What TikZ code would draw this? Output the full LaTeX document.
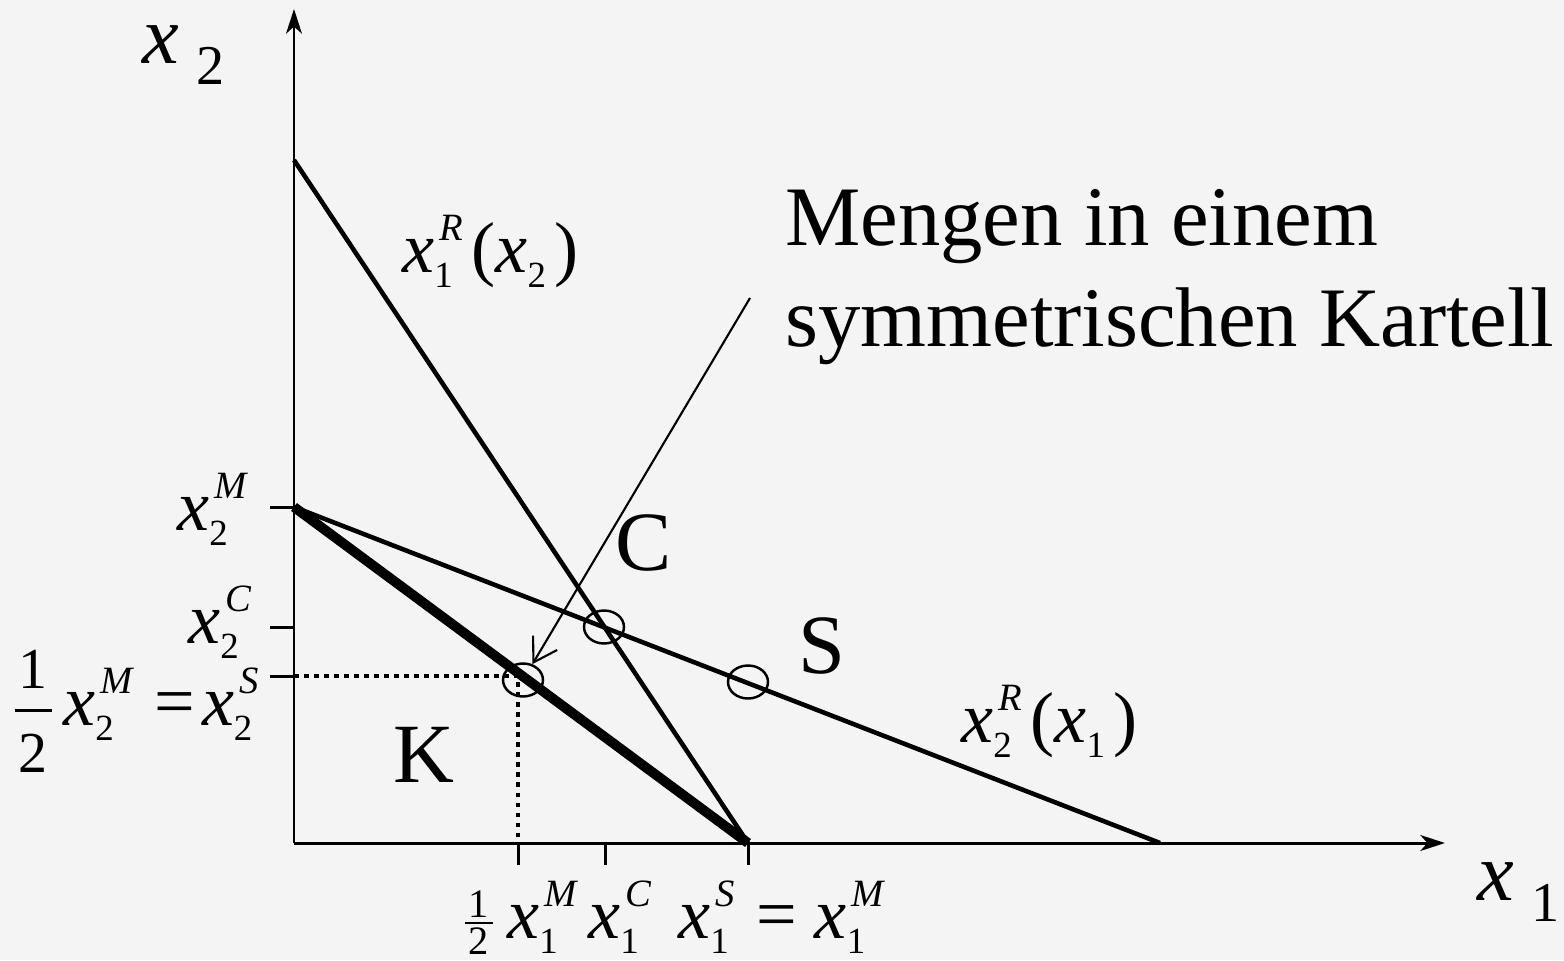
\documentclass[tikz,border=0pt]{standalone}
\usepackage{fontspec}
\setmainfont{Liberation Serif}
\usetikzlibrary{arrows.meta, shapes.geometric}
\definecolor{bgcol}{HTML}{F4F4F4}
% font sizes
\newcommand{\lblf}{\fontsize{41}{41}\selectfont}
\newcommand{\axf}{\fontsize{47}{47}\selectfont}
\newcommand{\titf}{\fontsize{48.2}{48.2}\selectfont}
\newcommand{\bigf}{\fontsize{48}{48}\selectfont}
\newcommand{\subf}{\fontsize{21}{21}\selectfont}
\newcommand{\supf}{\fontsize{22}{22}\selectfont\itshape}
% x with subscript / with sub- and superscript
\newcommand{\xsb}[1]{{\itshape x}\raisebox{-0.22em}{\subf #1}}
\newcommand{\xss}[2]{{\itshape x}\rlap{\raisebox{-0.22em}{\subf #1}}\kern0.07em\raisebox{0.44em}{\supf #2}}
\tikzset{
  axis/.style={line width=1.7pt, -{Stealth[length=14pt, width=9pt, inset=4pt]}},
  curve/.style={line width=2.6pt},
  cartel/.style={line width=5.6pt},
  tickline/.style={line width=1.7pt},
  guide/.style={line width=2.6pt, dash pattern=on 2.8pt off 2.9pt},
  ptmark/.style={ellipse, draw, line width=1.4pt, inner sep=0pt,
                 minimum width=0.8cm, minimum height=0.66cm},
  pointer/.style={line width=1.2pt, -{Straight Barb[length=13pt, width=16pt]}},
  lbl/.style={inner sep=0pt, anchor=base west, font=\lblf},
  big/.style={inner sep=0pt, anchor=base west, font=\bigf},
  frac/.style={inner sep=0pt, anchor=base},
}
\begin{document}
\begin{tikzpicture}[x=0.02cm, y=-0.02cm]
  \useasboundingbox (0,0) rectangle (1564,960);
  \fill[bgcol] (0,0) rectangle (1564,960);
  %% Axes
  \coordinate (O)   at (294,843);
  \coordinate (ytop) at (294,9);
  \coordinate (xend) at (1445,843);
  \draw[axis] (O) -- (ytop);
  \draw[axis] (O) -- (xend);
  \node[lbl, font=\axf] (ylab) at (142,63)
    {{\itshape x}\hspace{10pt}\raisebox{-12.5pt}{\fontsize{32}{32}\selectfont 2}};
  \node[lbl, font=\axf] (xlab) at (1477,900)
    {{\itshape x}\hspace{10pt}\raisebox{-12pt}{\fontsize{32}{32}\selectfont 1}};
  %% Reaction functions and cartel line
  \coordinate (a2) at (294,160);
  \coordinate (m2) at (294,507);
  \coordinate (m1) at (748,843);
  \coordinate (b1) at (1160,843);
  \draw[curve] (a2) -- (m1);
  \draw[curve] (m2) -- (b1);
  \draw[cartel] (m2) -- (m1);
  \node[lbl] (r1) at (402,272) {\xss{1}{R}\kern0.12em(\xsb{2}\kern0.12em)};
  \node[lbl] (r2) at (961,742) {\xss{2}{R}\kern0.12em(\xsb{1}\kern0.12em)};
  %% Ticks
  \foreach \y in {507,627,676}
    \draw[tickline] (270,\y) -- (294,\y);
  \foreach \x in {518,605,748}
    \draw[tickline] (\x,843) -- (\x,865);
  %% Dotted guides to K
  \coordinate (kpt) at (518,676);
  \draw[guide] (294,676) -- (kpt) -- (518,843);
  %% Points
  \node[ptmark] (eC) at (604,627) {};
  \node[ptmark] (eS) at (748,682) {};
  \node[ptmark] (eK) at (523,680) {};
  \node[big] (lC) at (615,570) {C};
  \node[big] (lS) at (798,673) {S};
  \node[big] (lK) at (393,782) {K};
  %% Annotation
  \node[big, font=\titf] (t1) at (785,245) {Mengen in einem};
  \node[big, font=\titf] (t2) at (785,346) {symmetrischen Kartell};
  \coordinate (ptr) at (750,298);
  \draw[pointer] (ptr) -- (eK);
  %% y-axis labels
  \node[lbl] (lx2m) at (177,530) {\xss{2}{M}};
  \node[lbl] (lx2c) at (188,643) {\xss{2}{C}};
  \node[frac, font=\fontsize{33}{33}\selectfont] (hl1) at (33,688) {1};
  \node[frac, font=\fontsize{33}{33}\selectfont] (hl2) at (33,772) {2};
  \draw[line width=1.7pt] (15,710) -- (52,710);
  \node[lbl] (lx2s) at (63,725) {\xss{2}{M}\hspace{0.3em}=\hspace{0.1em}\xss{2}{S}};
  %% x-axis labels
  \node[frac, font=\fontsize{23}{23}\selectfont] (hb1) at (479,917) {1};
  \node[frac, font=\fontsize{23}{23}\selectfont] (hb2) at (479,954) {2};
  \draw[line width=1pt] (465,923) -- (493,923);
  \node[lbl] (lx1m) at (507,938) {\xss{1}{M}};
  \node[lbl] (lx1c) at (588,938) {\xss{1}{C}};
  \node[lbl] (lx1s) at (678,938) {\xss{1}{S}\hspace{0.3em}=\hspace{0.25em}\xss{1}{M}};
\end{tikzpicture}
\end{document}
